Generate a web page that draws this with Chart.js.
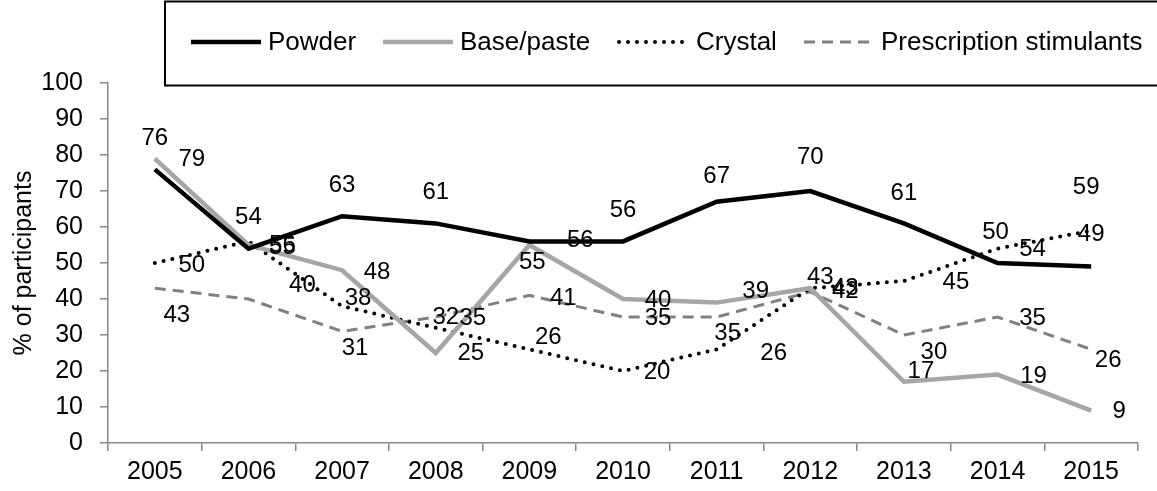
<!DOCTYPE html>
<html>
<head>
<meta charset="utf-8">
<script src="https://cdn.jsdelivr.net/npm/chart.js@4"></script>
<style>
  body { margin: 0; background: #fff; }
  #wrap { width: 1157px; height: 491px; }
</style>
</head>
<body>
<div id="wrap"><canvas id="grafico" width="1157" height="491"></canvas></div>
<script>
const anos = ['2005', '2006', '2007', '2008', '2009', '2010', '2011', '2012', '2013', '2014', '2015'];
const powder = [76, 54, 63, 61, 56, 56, 67, 70, 61, 50, 49];
const basePaste = [79, 55, 48, 25, 55, 40, 39, 43, 17, 19, 9];
const crystal = [50, 56, 38, 32, 26, 20, 26, 43, 45, 54, 59];
const prescription = [43, 40, 31, 35, 41, 35, 35, 42, 30, 35, 26];
const yMax = 100;
const yStep = 10;

// deslocamento de cada rotulo em relacao ao ponto (estilo, nao dado)
const offPowder = [[0,-31],[0,-31],[0,-31],[0,-31],[51,-1],[0,-31],[0,-25],[0,-34],[0,-30],[-2,-31],[0,-32]];
const offBase = [[37,1],[34,2],[35,2],[35,0],[3,17],[35,1],[39,-11],[10,-11],[17,-10],[36,2],[28,1]];
const offCrystal = [[37,2],[34,4],[16,-8],[10,-10],[19,-12],[34,1],[57,4],[35,0],[52,1],[35,1],[-5,-43]];
const offPresc = [[22,27],[54,-14],[13,17],[37,1],[34,3],[35,1],[11,16],[35,0],[30,17],[35,1],[17,11]];

const fonte = '"Liberation Sans", Arial, sans-serif';
const cinzaEixo = '#888888';

const rotulos = {
  id: 'rotulos',
  afterDatasetsDraw(chart) {
    const ctx = chart.ctx;
    ctx.save();
    ctx.font = '24px ' + fonte;
    ctx.fillStyle = '#000';
    ctx.textAlign = 'center';
    ctx.textBaseline = 'middle';
    chart.data.datasets.forEach((ds, i) => {
      const meta = chart.getDatasetMeta(i);
      meta.data.forEach((pt, j) => {
        const o = ds.offsets[j];
        ctx.fillText(String(ds.data[j]), pt.x + o[0], pt.y + o[1]);
      });
    });
    ctx.restore();
  }
};

const legenda = {
  id: 'legenda',
  afterDraw(chart) {
    const ctx = chart.ctx;
    const inicio = [191, 383, 619, 804];
    const yc = 42;
    ctx.save();
    ctx.strokeStyle = '#000';
    ctx.lineWidth = 2;
    ctx.strokeRect(165, 1.5, 1100, 84);
    ctx.font = '26px ' + fonte;
    ctx.textBaseline = 'middle';
    ctx.textAlign = 'left';
    chart.data.datasets.forEach((ds, i) => {
      const x = inicio[i];
      ctx.beginPath();
      ctx.strokeStyle = ds.borderColor;
      ctx.lineWidth = ds.borderWidth;
      ctx.lineCap = ds.borderCapStyle || 'butt';
      ctx.setLineDash(ds.borderDash || []);
      ctx.moveTo(x, yc);
      ctx.lineTo(x + 70, yc);
      ctx.stroke();
      ctx.setLineDash([]);
      ctx.fillStyle = '#000';
      ctx.fillText(ds.label, x + 77, yc + 1);
    });
    ctx.restore();
  }
};

new Chart(document.getElementById('grafico'), {
  type: 'line',
  data: {
    labels: anos,
    datasets: [
      { label: 'Powder', data: powder, offsets: offPowder, borderColor: '#000000', borderWidth: 4.5 },
      { label: 'Base/paste', data: basePaste, offsets: offBase, borderColor: '#A6A6A6', borderWidth: 4.5 },
      { label: 'Crystal', data: crystal, offsets: offCrystal, borderColor: '#000000', borderWidth: 4, borderDash: [0, 9], borderCapStyle: 'round' },
      { label: 'Prescription stimulants', data: prescription, offsets: offPresc, borderColor: '#808080', borderWidth: 3, borderDash: [11, 7] }
    ]
  },
  options: {
    responsive: false,
    animation: false,
    devicePixelRatio: 1,
    layout: { padding: { top: 83, right: 19, left: 0, bottom: 0 } },
    elements: { point: { radius: 0 }, line: { tension: 0 } },
    plugins: { legend: { display: false }, tooltip: { enabled: false } },
    scales: {
      x: {
        offset: true,
        grid: { offset: true, drawOnChartArea: false, tickLength: 8, color: cinzaEixo, lineWidth: 1.5 },
        border: { color: cinzaEixo, width: 1.5 },
        ticks: { color: '#000', font: { family: fonte, size: 25 }, padding: 6, maxRotation: 0 },
        afterFit(s) { s.height = 48; }
      },
      y: {
        min: 0,
        max: yMax,
        grid: { drawOnChartArea: false, tickLength: 8, color: cinzaEixo, lineWidth: 1.5 },
        border: { color: cinzaEixo, width: 1.5 },
        ticks: { stepSize: yStep, color: '#000', font: { family: fonte, size: 25 }, padding: 17 },
        title: { display: true, text: '% of participants', color: '#000', font: { family: fonte, size: 25 }, padding: { top: 9, bottom: 0 } },
        afterFit(s) { s.width = 108; }
      }
    }
  },
  plugins: [rotulos, legenda]
});
</script>
</body>
</html>
